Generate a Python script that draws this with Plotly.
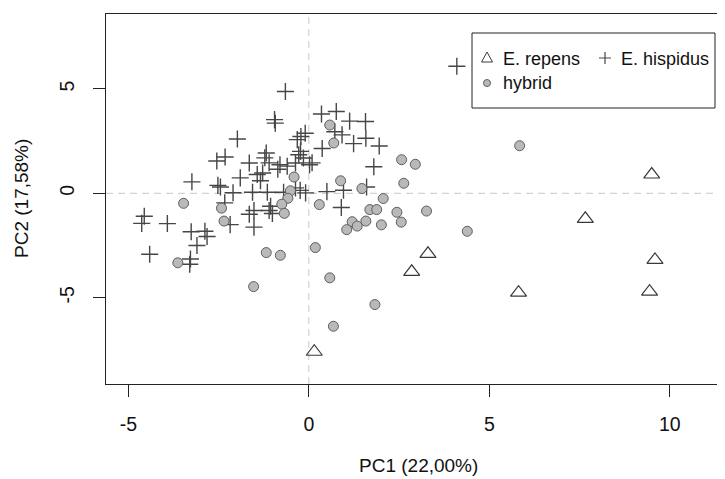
import plotly.graph_objects as go

# ---------------- data ----------------
repens_x = [9.50, 7.66, 3.30, 2.85, 5.81, 9.59, 9.44, 0.15]
repens_y = [0.90, -1.22, -2.90, -3.76, -4.76, -3.19, -4.71, -7.59]

hybrid_x = [5.84, 0.58, 0.69, 2.57, 2.95, 2.63, 0.88, 1.47, -0.41, -0.51, -0.58,
            -0.75, -0.68, 0.29, -3.47, -2.42, -2.35, 2.06, 1.69, 1.88, 2.44, 3.26,
            1.20, 1.58, 2.56, 1.34, 1.05, 2.01, 4.39, 0.18, -1.18, -0.79, -3.63,
            0.58, -1.53, 1.83, 0.68]
hybrid_y = [2.28, 3.27, 2.41, 1.61, 1.39, 0.48, 0.60, 0.23, 0.78, 0.12, -0.24,
            -0.52, -0.96, -0.54, -0.48, -0.71, -1.33, -0.25, -0.78, -0.78, -0.91, -0.85,
            -1.36, -1.33, -1.38, -1.57, -1.74, -1.51, -1.82, -2.60, -2.84, -2.97, -3.33,
            -4.05, -4.47, -5.33, -6.37]

hispidus_x = [4.10, -0.65, -0.95, -0.93, 0.35, 0.76, 1.13, 1.57, -1.98, -0.22,
              -0.10, -0.32, 0.72, 0.92, 1.58, 1.24, 1.95, 0.37, -1.18, -1.22,
              -2.32, -2.55, -0.28, -0.15, -0.37, 0.02, -0.80, -1.65, 1.80, -1.90,
              -1.43, -3.24, -2.52, -2.45, -2.10, -1.56, -1.15, -0.24, -0.09, 0.50,
              0.96, 1.60, 0.90, -1.52, -1.10, -1.01, -1.65, -2.33, -2.18, -1.52,
              -4.56, -4.63, -3.92, -3.26, -2.88, -2.82, -3.10, -4.41, -3.28, -3.30,
              -1.28, -0.86, -0.60, -0.37, -1.06, 0.09, -0.23, -1.10, -1.34, -0.70]
hispidus_y = [6.09, 4.88, 3.53, 3.36, 3.80, 3.92, 3.46, 3.44, 2.60, 2.72,
              2.88, 2.57, 2.95, 2.80, 2.64, 2.38, 2.27, 2.15, 1.93, 1.70,
              1.74, 1.55, 1.85, 1.69, 1.45, 1.37, 1.37, 1.45, 1.27, 0.74,
              0.90, 0.55, 0.38, 0.30, 0.03, 0.05, 0.05, 0.14, 0.02, 0.08,
              0.15, 0.30, -0.68, -0.82, -0.82, -0.97, -1.00, -0.46, -1.50, -1.62,
              -1.10, -1.44, -1.45, -1.84, -1.82, -2.07, -2.50, -2.92, -3.15, -3.40,
              0.97, 1.15, 1.30, 0.26, -0.62, 1.46, 2.01, 1.46, 0.60, 0.05]

x_tick_vals = [-5, 0, 5, 10]
x_tick_text = ["-5", "0", "5", "10"]
y_tick_vals = [-5, 0, 5]
y_tick_text = ["-5", "0", "5"]

x_title = "PC1 (22,00%)"
y_title = "PC2 (17,58%)"
legend_labels = ["E. repens", "E. hispidus", "hybrid"]

# ---------------- styling ----------------
FONT = "Liberation Sans, Arial, sans-serif"
PAGE_OFF = 8                      # default body margin of the html page
W, H = 725 - PAGE_OFF, 479 - PAGE_OFF
L, R, T, B = 106 - PAGE_OFF, 0, 14 - PAGE_OFF, 95
PW, PH = W - L - R, H - T - B
LEFT_PAGE, BOTTOM_PAGE = 106, 384

def px(X):   # page pixel -> paper
    return (X - LEFT_PAGE) / PW

def py(Y):
    return (BOTTOM_PAGE - Y) / PH

cross_col = "#464646"
tri_col = "#3a3a3a"
circ_fill = "#b9b9b9"
circ_line = "#5e5e5e"

fig = go.Figure()

fig.add_trace(go.Scatter(
    x=hispidus_x, y=hispidus_y, mode="markers", name=legend_labels[1],
    marker=dict(symbol="cross-thin-open", size=12.2, color=cross_col,
                line=dict(color=cross_col, width=1.4)),
    showlegend=False))
fig.add_trace(go.Scatter(
    x=hybrid_x, y=hybrid_y, mode="markers", name=legend_labels[2],
    marker=dict(symbol="circle", size=10, color=circ_fill,
                line=dict(color=circ_line, width=1)),
    showlegend=False))
fig.add_trace(go.Scatter(
    x=repens_x, y=repens_y, mode="markers", name=legend_labels[0],
    marker=dict(symbol="triangle-up-open", size=14, color=tri_col,
                line=dict(color=tri_col, width=1.2)),
    showlegend=False))

# dashed reference lines at 0
fig.add_shape(type="line", xref="x", yref="paper", x0=0, x1=0, y0=0, y1=1,
              line=dict(color="#c8c8c8", width=1, dash="7px,5px"), layer="below")
fig.add_shape(type="line", xref="paper", yref="y", x0=0, x1=1, y0=0, y1=0,
              line=dict(color="#c8c8c8", width=1, dash="7px,5px"), layer="below")

# ---------------- legend (drawn manually, R style) ----------------
fig.add_shape(type="rect", xref="paper", yref="paper",
              x0=px(472), x1=px(715), y0=py(108), y1=py(33),
              line=dict(color="#222222", width=1), fillcolor="white", layer="above")
tx, ty = 487, 58
fig.add_shape(type="path", xref="paper", yref="paper",
              path=(f"M {px(tx)} {py(ty-6)} L {px(tx+5.5)} {py(ty+4)} "
                    f"L {px(tx-5.5)} {py(ty+4)} Z"),
              line=dict(color=tri_col, width=1), layer="above")
cx, cy = 605, 58
fig.add_shape(type="path", xref="paper", yref="paper",
              path=(f"M {px(cx-6)} {py(cy)} L {px(cx+6)} {py(cy)} "
                    f"M {px(cx)} {py(cy-6)} L {px(cx)} {py(cy+6)}"),
              line=dict(color=cross_col, width=1.2), layer="above")
ox, oy = 487, 83
fig.add_shape(type="circle", xref="paper", yref="paper",
              x0=px(ox-3.5), x1=px(ox+3.5), y0=py(oy+3.5), y1=py(oy-3.5),
              line=dict(color=circ_line, width=1), fillcolor=circ_fill, layer="above")

leg_font = dict(family=FONT, size=18, color="#111111")
for txt, X, Y in [(legend_labels[0], 501, 59), (legend_labels[1], 619, 59),
                  (legend_labels[2], 501, 83)]:
    fig.add_annotation(text=txt, xref="paper", yref="paper", x=px(X), y=py(Y),
                       xanchor="left", yanchor="middle", showarrow=False,
                       font=leg_font)

# axis titles
fig.add_annotation(text=x_title, xref="paper", yref="paper", x=px(418), y=py(465),
                   xanchor="center", yanchor="middle", showarrow=False,
                   font=dict(family=FONT, size=19, color="#111111"))
fig.add_annotation(text=y_title, xref="paper", yref="paper", x=px(21), y=py(199),
                   xanchor="center", yanchor="middle", showarrow=False, textangle=-90,
                   font=dict(family=FONT, size=19, color="#111111"))

axis_common = dict(showgrid=False, zeroline=False, showline=True, linecolor="#222222",
                   linewidth=1, ticks="outside", ticklen=12, tickwidth=1,
                   tickcolor="#222222",
                   tickfont=dict(family=FONT, size=19.5, color="#111111"))

fig.update_xaxes(range=[-5.62, 11.53], tickvals=x_tick_vals, ticktext=x_tick_text,
                 mirror=True, ticklabelstandoff=11, **axis_common)
fig.update_yaxes(range=[-9.135, 8.59], tickvals=y_tick_vals, ticktext=y_tick_text,
                 mirror=False, tickangle=-90, ticklabelstandoff=11, **axis_common)

fig.update_layout(width=W, height=H, margin=dict(l=L, r=R, t=T, b=B, autoexpand=False),
                  plot_bgcolor="white", paper_bgcolor="white", showlegend=False,
                  font=dict(family=FONT))

fig.write_html("out.html")
